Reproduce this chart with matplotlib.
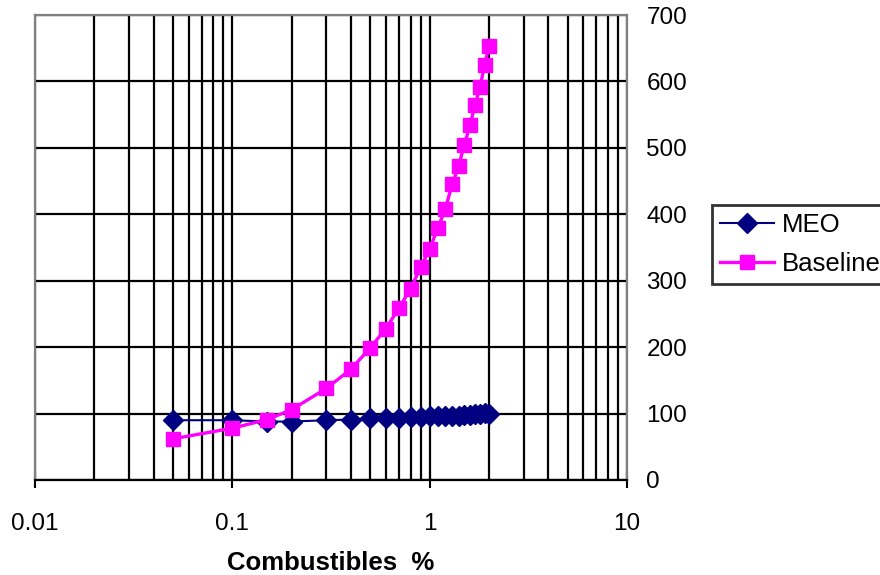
import matplotlib
matplotlib.use("Agg")
import matplotlib.pyplot as plt
from matplotlib.ticker import FixedLocator, NullFormatter

plt.rcParams["font.family"] = ["Liberation Sans", "DejaVu Sans"]

# Combustibles (%) and the two response series
combustibles = [0.05, 0.1, 0.15, 0.2, 0.3, 0.4, 0.5, 0.6, 0.7, 0.8, 0.9,
                1.0, 1.1, 1.2, 1.3, 1.4, 1.5, 1.6, 1.7, 1.8, 1.9, 2.0]
meo = [90, 90, 88, 88, 90, 91, 93, 94, 94, 95, 95,
       96, 96, 97, 97, 97, 98, 98, 99, 100, 101, 100]
baseline = [62, 78, 91, 106, 138, 167, 199, 228, 259, 288, 320,
            348, 379, 408, 445, 472, 505, 534, 565, 592, 625, 653]

x_ticks = [0.01, 0.1, 1, 10]
x_tick_labels = ["0.01", "0.1", "1", "10"]
y_ticks = [0, 100, 200, 300, 400, 500, 600, 700]

fig = plt.figure(figsize=(8.8, 5.75), dpi=100)
ax = fig.add_axes([35 / 880, 95 / 575, (627 - 35) / 880, (560 - 95) / 575])

ax.set_xscale("log")
ax.set_xlim(0.01, 10)
ax.set_ylim(0, 700)

minor = [m * d for d in (0.01, 0.1, 1) for m in range(2, 10)]
ax.xaxis.set_major_locator(FixedLocator(x_ticks))
ax.xaxis.set_minor_locator(FixedLocator(minor))
ax.xaxis.set_minor_formatter(NullFormatter())
ax.set_xticklabels(x_tick_labels)
ax.set_yticks(y_ticks)

ax.grid(True, which="both", axis="x", color="black", linewidth=1.6)
ax.grid(True, which="major", axis="y", color="black", linewidth=1.6)
ax.set_axisbelow(True)

ax.plot(combustibles, meo, color="#000080", linewidth=1.5, marker="D",
        markersize=10.5, markeredgecolor="#000080", markerfacecolor="#000080",
        label="MEO", zorder=3)
ax.plot(combustibles, baseline, color="#FF00FF", linewidth=2.4, marker="s",
        markersize=10, markeredgecolor="#FF00FF", markerfacecolor="#FF00FF",
        label="Baseline", zorder=4)

for side in ("top", "left", "right"):
    ax.spines[side].set_color("#808080")
    ax.spines[side].set_linewidth(1.6)
ax.spines["bottom"].set_color("black")
ax.spines["bottom"].set_linewidth(1.6)

ax.yaxis.tick_right()
ax.tick_params(axis="y", which="both", length=0, pad=14, labelsize=17.5)
ax.tick_params(axis="x", which="major", direction="inout", length=12,
               width=1.5, pad=18, labelsize=17.5)
ax.tick_params(axis="x", which="minor", direction="in", length=6, width=1.2)

ax.set_xlabel("Combustibles  %", fontsize=18.5, fontweight="bold", labelpad=11)

leg = fig.legend(loc="upper left", bbox_to_anchor=(712 / 880, 1 - 205 / 575),
                 borderaxespad=0, fontsize=18.5, frameon=True, fancybox=False,
                 handlelength=2.1, handletextpad=0.3, borderpad=0.3,
                 labelspacing=0.6)
leg.get_frame().set_edgecolor("black")
leg.get_frame().set_linewidth(2)

fig.savefig("out.png", dpi=100)
